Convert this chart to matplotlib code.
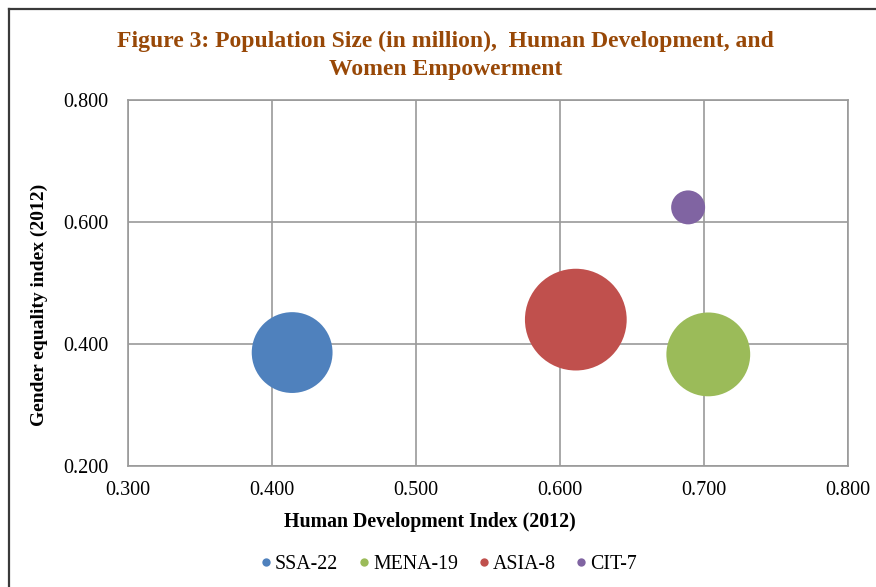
import matplotlib
matplotlib.use("Agg")
import matplotlib.pyplot as plt
from matplotlib.lines import Line2D

# données (IDH, indice d'égalité de genre, population en millions)
groupes = ["SSA-22", "MENA-19", "ASIA-8", "CIT-7"]
hdi = [0.414, 0.703, 0.611, 0.689]
gei = [0.386, 0.383, 0.440, 0.624]
population = [555, 597, 880, 98]
couleurs = ["#4f81bd", "#9bbb59", "#c0504d", "#8064a2"]

x_ticks = [0.3, 0.4, 0.5, 0.6, 0.7, 0.8]
y_ticks = [0.2, 0.4, 0.6, 0.8]

plt.rcParams["font.family"] = ["Liberation Serif", "DejaVu Serif"]

fig = plt.figure(figsize=(8.76, 5.87), dpi=100)
ax = fig.add_axes([0.1461, 0.2061, 0.8219, 0.6235])

# taille des bulles proportionnelle à la population (aire)
k = 6.1
for i in range(len(groupes)):
    ax.scatter(hdi[i], gei[i], s=population[i] * k, color=couleurs[i],
               edgecolors="none", zorder=3)

ax.set_xlim(0.3, 0.8)
ax.set_ylim(0.2, 0.8)
ax.set_xticks(x_ticks)
ax.set_yticks(y_ticks)
ax.set_xticklabels(["%.3f" % v for v in x_ticks])
ax.set_yticklabels(["%.3f" % v for v in y_ticks])
ax.tick_params(axis="both", length=0, labelsize=14.5)
ax.tick_params(axis="x", pad=11)
ax.tick_params(axis="y", pad=14)
ax.grid(True, color="#9a9a9a", linewidth=1.2, zorder=0)
ax.set_axisbelow(True)
for sp in ax.spines.values():
    sp.set_color("#9a9a9a")
    sp.set_linewidth(1.2)

ax.set_xlabel("Human Development Index (2012)", fontsize=14.3, fontweight="bold")
ax.set_ylabel("Gender equality index (2012)", fontsize=14, fontweight="bold")
ax.xaxis.set_label_coords(0.419, -0.126)
ax.yaxis.set_label_coords(-0.111, 0.44)

fig.text(0.509, 0.930, "Figure 3: Population Size (in million),  Human Development, and",
         ha="center", va="center", fontsize=17, fontweight="bold", color="#984807")
fig.text(0.509, 0.881, "Women Empowerment",
         ha="center", va="center", fontsize=17, fontweight="bold", color="#984807")

handles = [Line2D([], [], marker="o", linestyle="none", markersize=6,
                  markerfacecolor=c, markeredgecolor="none") for c in couleurs]
fig.legend(handles, groupes, loc="center", bbox_to_anchor=(0.511, 0.038),
           ncol=4, frameon=False, fontsize=14.3, handletextpad=0.05,
           columnspacing=0.9, handlelength=0.8)

# cadre du graphique
fig.add_artist(Line2D([9 / 876, 9 / 876], [0, 1 - 9 / 587],
                      transform=fig.transFigure, color="#3a3a3a", linewidth=1.6))
fig.add_artist(Line2D([9 / 876, 1], [1 - 9 / 587, 1 - 9 / 587],
                      transform=fig.transFigure, color="#3a3a3a", linewidth=1.6))

fig.savefig("out.png", dpi=100)
